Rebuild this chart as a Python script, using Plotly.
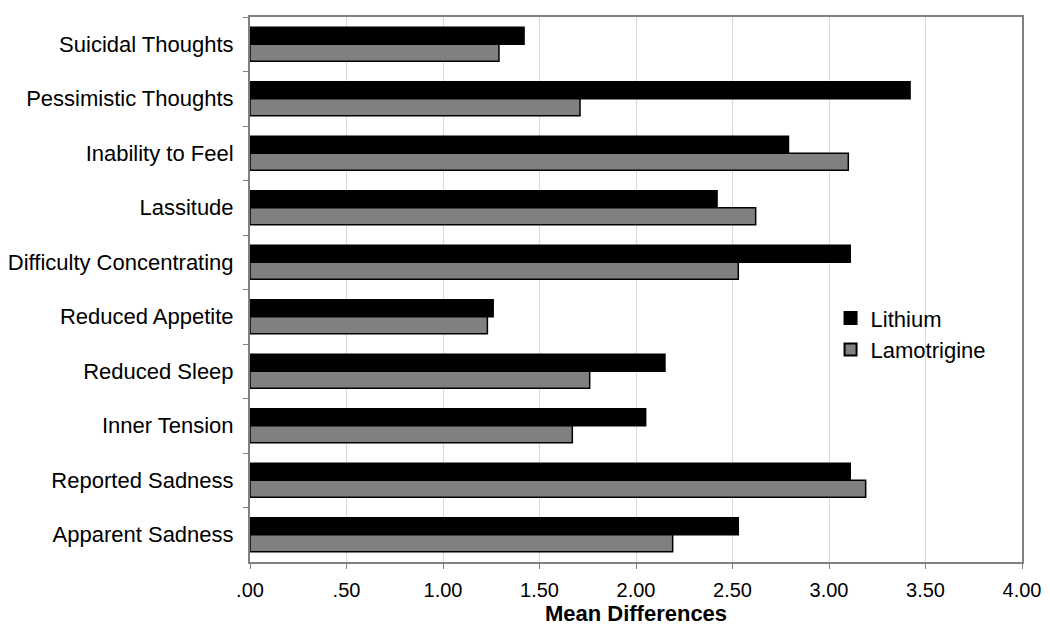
import plotly.graph_objects as go

categories = ["Suicidal Thoughts", "Pessimistic Thoughts", "Inability to Feel", "Lassitude",
              "Difficulty Concentrating", "Reduced Appetite", "Reduced Sleep", "Inner Tension",
              "Reported Sadness", "Apparent Sadness"]
lithium = [1.42, 3.42, 2.79, 2.42, 3.11, 1.26, 2.15, 2.05, 3.11, 2.53]
lamotrigine = [1.29, 1.71, 3.10, 2.62, 2.53, 1.23, 1.76, 1.67, 3.19, 2.19]
tick_vals = [0, 0.5, 1, 1.5, 2, 2.5, 3, 3.5, 4]
tick_text = [".00", ".50", "1.00", "1.50", "2.00", "2.50", "3.00", "3.50", "4.00"]

fig = go.Figure()
fig.add_trace(go.Bar(y=categories, x=lithium, name="Lithium", orientation="h",
                     marker=dict(color="#000000", line=dict(color="#000000", width=1.5))))
fig.add_trace(go.Bar(y=categories, x=lamotrigine, name="Lamotrigine", orientation="h",
                     marker=dict(color="#808080", line=dict(color="#000000", width=1.5))))

fig.update_layout(
    width=1050, height=633,
    margin=dict(l=242, r=36, t=9, b=79),
    barmode="group", bargap=0.38, bargroupgap=0,
    plot_bgcolor="white", paper_bgcolor="white",
    font=dict(family="Liberation Sans, Arial, sans-serif", size=22, color="black"),
    legend=dict(x=0.752, y=0.486, xanchor="left", yanchor="top", traceorder="normal",
                font=dict(size=22), bgcolor="rgba(0,0,0,0)", itemsizing="constant"),
    xaxis=dict(range=[0, 4], tickvals=tick_vals, ticktext=tick_text,
               tickfont=dict(size=20), ticklabelstandoff=4, automargin=False,
               showgrid=True, gridcolor="#d9d9d9", gridwidth=1,
               ticks="outside", ticklen=5, tickcolor="#808080",
               showline=True, linecolor="#808080", linewidth=2, mirror=True,
               title=dict(text="<b>Mean Differences</b>", font=dict(size=22), standoff=3),
               zeroline=False),
    yaxis=dict(categoryorder="array", categoryarray=categories, autorange="reversed",
               tickfont=dict(size=22), ticklabelstandoff=10, automargin=False,
               showline=True, linecolor="#808080", linewidth=2, mirror=True,
               ticks="outside", ticklen=5, tickcolor="#808080", tickson="boundaries",
               showgrid=False),
)
fig.write_html("out.html")
